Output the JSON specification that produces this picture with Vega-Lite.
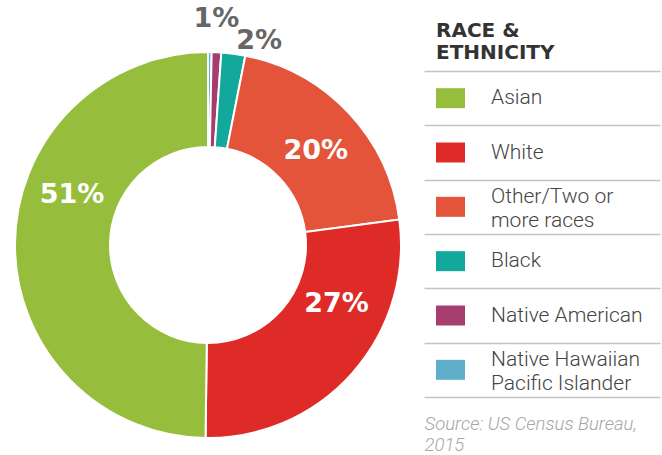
{
  "$schema": "https://vega.github.io/schema/vega-lite/v6.json",
  "padding": {"top": 5, "left": 0, "right": 2, "bottom": 0},
  "spacing": 8,
  "bounds": "flush",
  "background": "white",
  "config": {"view": {"stroke": null}, "font": "DejaVu Sans"},
  "datasets": {
    "race": [
      {"group": "Native Hawaiian Pacific Islander", "legend": "Native Hawaiian\nPacific Islander", "share": 0.3, "label": "", "rank": 1},
      {"group": "Native American", "legend": "Native American", "share": 0.8, "label": "1%", "rank": 2},
      {"group": "Black", "legend": "Black", "share": 2.0, "label": "2%", "rank": 3},
      {"group": "Other/Two or more races", "legend": "Other/Two or\nmore races", "share": 19.8, "label": "20%", "rank": 4},
      {"group": "White", "legend": "White", "share": 27.3, "label": "27%", "rank": 5},
      {"group": "Asian", "legend": "Asian", "share": 49.8, "label": "51%", "rank": 6}
    ]
  },
  "hconcat": [
    {
      "width": 416,
      "height": 348,
      "data": {"name": "race"},
      "encoding": {
        "theta": {"field": "share", "type": "quantitative", "stack": true},
        "order": {"field": "rank", "type": "quantitative"},
        "detail": {"field": "group", "type": "nominal"}
      },
      "layer": [
        {
          "mark": {"type": "arc", "outerRadius": 193, "innerRadius": 98, "stroke": "white", "strokeWidth": 2},
          "encoding": {
            "color": {
              "field": "group", "type": "nominal", "legend": null,
              "scale": {
                "domain": ["Asian", "White", "Other/Two or more races", "Black", "Native American", "Native Hawaiian Pacific Islander"],
                "range": ["#96BE3C", "#DE2B27", "#E3543B", "#12A89B", "#A63D6F", "#5FAFCA"]
              }
            }
          }
        },
        {
          "mark": {"type": "text", "radius": 145, "dx": 9, "dy": -49, "fontSize": 27, "fontWeight": "bold", "fill": "white"},
          "encoding": {"text": {"condition": {"test": "datum.group === 'Asian'", "field": "label"}, "value": ""}}
        },
        {
          "mark": {"type": "text", "radius": 145, "dx": 20, "dy": -37, "fontSize": 27, "fontWeight": "bold", "fill": "white"},
          "encoding": {"text": {"condition": {"test": "datum.group === 'White'", "field": "label"}, "value": ""}}
        },
        {
          "mark": {"type": "text", "radius": 145, "dx": 2, "dy": 5, "fontSize": 27, "fontWeight": "bold", "fill": "white"},
          "encoding": {"text": {"condition": {"test": "datum.group === 'Other/Two or more races'", "field": "label"}, "value": ""}}
        },
        {
          "mark": {"type": "text", "radius": 145, "dx": 2, "dy": -81, "fontSize": 27, "fontWeight": "bold", "fill": "#666666"},
          "encoding": {"text": {"condition": {"test": "datum.group === 'Native American'", "field": "label"}, "value": ""}}
        },
        {
          "mark": {"type": "text", "radius": 145, "dx": 32, "dy": -60, "fontSize": 27, "fontWeight": "bold", "fill": "#666666"},
          "encoding": {"text": {"condition": {"test": "datum.group === 'Black'", "field": "label"}, "value": ""}}
        }
      ]
    },
    {
      "width": 236,
      "height": 326,
      "data": {"name": "race"},
      "title": {
        "text": ["RACE &", "ETHNICITY"],
        "anchor": "start",
        "dx": 12,
        "offset": 8,
        "fontSize": 20,
        "font": "DejaVu Sans",
        "fontWeight": "bold",
        "color": "#333333",
        "lineHeight": 22
      },
      "encoding": {
        "y": {
          "field": "group", "type": "nominal",
          "sort": ["Asian", "White", "Other/Two or more races", "Black", "Native American", "Native Hawaiian Pacific Islander"],
          "scale": {"paddingInner": 0, "paddingOuter": 0},
          "axis": {"grid": true, "tickBand": "extent", "domain": false, "ticks": false, "labels": false, "title": null, "gridColor": "#c4c4c4", "gridWidth": 1.5}
        },
        "x": {
          "datum": 26.5, "type": "quantitative",
          "scale": {"domain": [0, 236]},
          "axis": {
            "grid": false, "domain": false, "ticks": false, "labels": false,
            "title": ["Source: US Census Bureau,", "2015"],
            "titleAnchor": "start", "titleAlign": "left", "titleBaseline": "top",
            "titleFont": "Roboto", "titleFontStyle": "italic", "titleFontWeight": 300,
            "titleFontSize": 18.5, "titleColor": "#a6a6a6", "titleLineHeight": 21, "titlePadding": 17
          }
        },
        "color": {
          "field": "group", "type": "nominal", "legend": null,
          "scale": {
            "domain": ["Asian", "White", "Other/Two or more races", "Black", "Native American", "Native Hawaiian Pacific Islander"],
            "range": ["#96BE3C", "#DE2B27", "#E3543B", "#12A89B", "#A63D6F", "#5FAFCA"]
          }
        }
      },
      "layer": [
        {
          "transform": [{"filter": "indexof(datum.legend, '\\n') < 0"}],
          "mark": {"type": "point", "filled": true, "opacity": 1, "size": 400, "shape": "M-1.45,-1H1.45V1H-1.45Z"}
        },
        {
          "transform": [{"filter": "indexof(datum.legend, '\\n') >= 0"}],
          "mark": {"type": "point", "filled": true, "opacity": 1, "size": 400, "dy": -10, "shape": "M-1.45,-1H1.45V1H-1.45Z"}
        },
        {
          "transform": [{"filter": "indexof(datum.legend, '\\n') < 0"}],
          "mark": {"type": "text", "align": "left", "baseline": "middle", "fontSize": 21, "font": "Roboto", "fontWeight": 300, "color": "#444444", "lineBreak": "\n", "lineHeight": 24},
          "encoding": {
            "x": {"datum": 67, "type": "quantitative"},
            "text": {"field": "legend"},
            "color": {"value": "#444444"}
          }
        },
        {
          "transform": [{"filter": "indexof(datum.legend, '\\n') >= 0"}],
          "mark": {"type": "text", "align": "left", "baseline": "middle", "dy": -10, "fontSize": 21, "font": "Roboto", "fontWeight": 300, "color": "#444444", "lineBreak": "\n", "lineHeight": 24},
          "encoding": {
            "x": {"datum": 67, "type": "quantitative"},
            "text": {"field": "legend"},
            "color": {"value": "#444444"}
          }
        }
      ]
    }
  ]
}
